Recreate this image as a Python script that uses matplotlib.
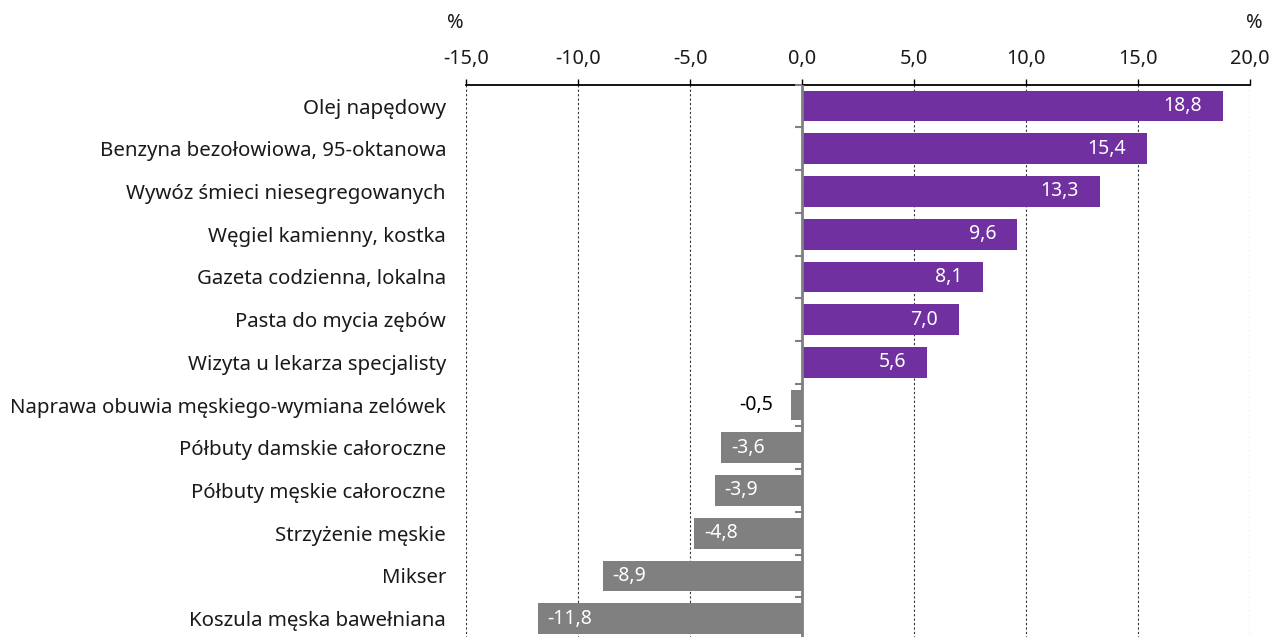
import matplotlib.pyplot as plt
import numpy as np

plt.rcParams['font.family'] = ['Noto Sans', 'DejaVu Sans']

categories = ['Olej napędowy', 'Benzyna bezołowiowa, 95-oktanowa',
              'Wywóz śmieci niesegregowanych', 'Węgiel kamienny, kostka',
              'Gazeta codzienna, lokalna', 'Pasta do mycia zębów',
              'Wizyta u lekarza specjalisty',
              'Naprawa obuwia męskiego-wymiana zelówek',
              'Półbuty damskie całoroczne', 'Półbuty męskie całoroczne',
              'Strzyżenie męskie', 'Mikser', 'Koszula męska bawełniana']
values = [18.8, 15.4, 13.3, 9.6, 8.1, 7.0, 5.6, -0.5, -3.6, -3.9, -4.8, -8.9, -11.8]
xticks = [-15, -10, -5, 0, 5, 10, 15, 20]

PURPLE = '#7030a0'
GREY = '#808080'
W, H = 1271, 637

fig = plt.figure(figsize=(W / 100, H / 100), dpi=100)
ax = fig.add_axes([466 / W, -3 / H, (1250 - 466) / W, (640 - 84.7) / H])

y = np.arange(len(categories))
colors = [PURPLE if v > 0 else GREY for v in values]
ax.barh(y, values, height=0.72, color=colors, zorder=2)

ax.set_xlim(-15, 20)
ax.set_ylim(len(categories) - 0.5, -0.5)

# top axis
ax.xaxis.tick_top()
ax.set_xticks(xticks)
ax.set_xticklabels([('%.1f' % t).replace('.', ',') for t in xticks])
ax.tick_params(axis='x', length=4.5, width=1, color='black', pad=6.5,
               labelsize=14.3, labelcolor='#1a1a1a')
ax.grid(axis='x', linestyle=(0, (2, 2)), color='#333333', linewidth=0.8, zorder=0)

ax.set_yticks(y)
ax.set_yticklabels(categories)
ax.tick_params(axis='y', length=0, pad=14.4, labelsize=14.7, labelcolor='#1a1a1a')

for s in ['left', 'right', 'bottom']:
    ax.spines[s].set_visible(False)
ax.spines['top'].set_linewidth(1.3)
ax.spines['top'].set_color('black')

# zero line with small category ticks
ax.axvline(0, color=GREY, lw=2, zorder=3)
bounds = np.arange(len(categories)) - 0.5
ax.plot(np.zeros(len(bounds)), bounds, ls='none', marker=0, ms=5, mew=1.5,
        color=GREY, zorder=3, clip_on=False)

# value labels
for yi, v in zip(y, values):
    txt = ('%.1f' % v).replace('.', ',')
    if v > 0:
        ax.annotate(txt, (v, yi), xytext=(-15, 0), textcoords='offset points',
                    ha='right', va='center', color='white', fontsize=14, zorder=4)
    elif v > -1:
        ax.annotate(txt, (v, yi), xytext=(-13, 0), textcoords='offset points',
                    ha='right', va='center', color='black', fontsize=14, zorder=4)
    else:
        ax.annotate(txt, (v, yi), xytext=(7, 0), textcoords='offset points',
                    ha='left', va='center', color='white', fontsize=14, zorder=4)

fig.text(447 / W, 1 - 23 / H, '%', ha='left', va='center', fontsize=14.3, color='#1a1a1a')
fig.text(1263 / W, 1 - 23 / H, '%', ha='right', va='center', fontsize=14.3, color='#1a1a1a')

fig.savefig('out.png', dpi=100)
